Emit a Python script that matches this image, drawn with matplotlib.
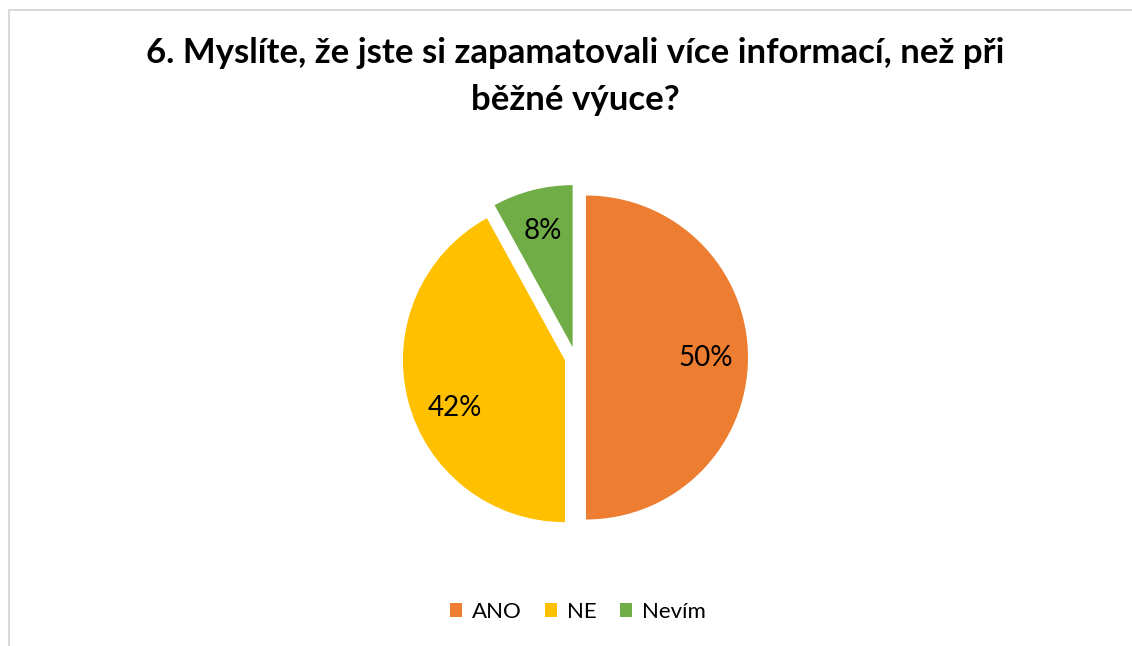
import matplotlib.pyplot as plt
from matplotlib.patches import Rectangle

plt.rcParams['font.family'] = ['Lato', 'DejaVu Sans']

# Data from the chart
odpovedi = ['ANO', 'NE', 'Nevím']
podily = [50, 42, 8]
barvy = ['#ED7D31', '#FFC000', '#70AD47']
nadpis = ['6. Myslíte, že jste si zapamatovali více informací, než při',
          'běžné výuce?']

W, H = 1132, 646
fig = plt.figure(figsize=(W / 100, H / 100), dpi=100)

# gray chart frame (runs off the image at right and bottom)
fig.patches.append(Rectangle((8.5 / W, -0.1), 1.2, (H - 10.5) / H + 0.1,
                             transform=fig.transFigure, fill=False,
                             edgecolor='#D9D9D9', linewidth=1.5))

# pie axes: center at (575, 357) px from top, radius 162 px
r_px = 162
cx, cy = 575.3, H - 357.5
half = 200
ax = fig.add_axes([(cx - half) / W, (cy - half) / H, 2 * half / W, 2 * half / H])

wedges, texts, autotexts = ax.pie(
    podily, colors=barvy, startangle=90, counterclock=False,
    explode=[0.066] * len(podily), autopct='%1.0f%%', pctdistance=0.74,
    wedgeprops={'linewidth': 0}, textprops={'fontsize': 20, 'color': 'black'})

# Excel puts the NE label a little lower
x, y = autotexts[1].get_position()
autotexts[1].set_position((x + 0.04, y - 0.11))

ax.set_xlim(-half / r_px, half / r_px)
ax.set_ylim(-half / r_px, half / r_px)
ax.set_aspect('auto')
ax.axis('off')

# title, two lines
fig.text(575 / W, 1 - 63 / H, nadpis[0], ha='center', va='baseline',
         fontsize=25, fontweight='bold')
fig.text(575 / W, 1 - 110 / H, nadpis[1], ha='center', va='baseline',
         fontsize=25, fontweight='bold')

fig.legend(wedges, odpovedi, loc='center', bbox_to_anchor=(578 / W, 1 - 612 / H),
           ncol=3, frameon=False, fontsize=16, handlelength=0.55, handleheight=0.55,
           handletextpad=0.45, columnspacing=1.05)

fig.savefig('out.png', dpi=100)
